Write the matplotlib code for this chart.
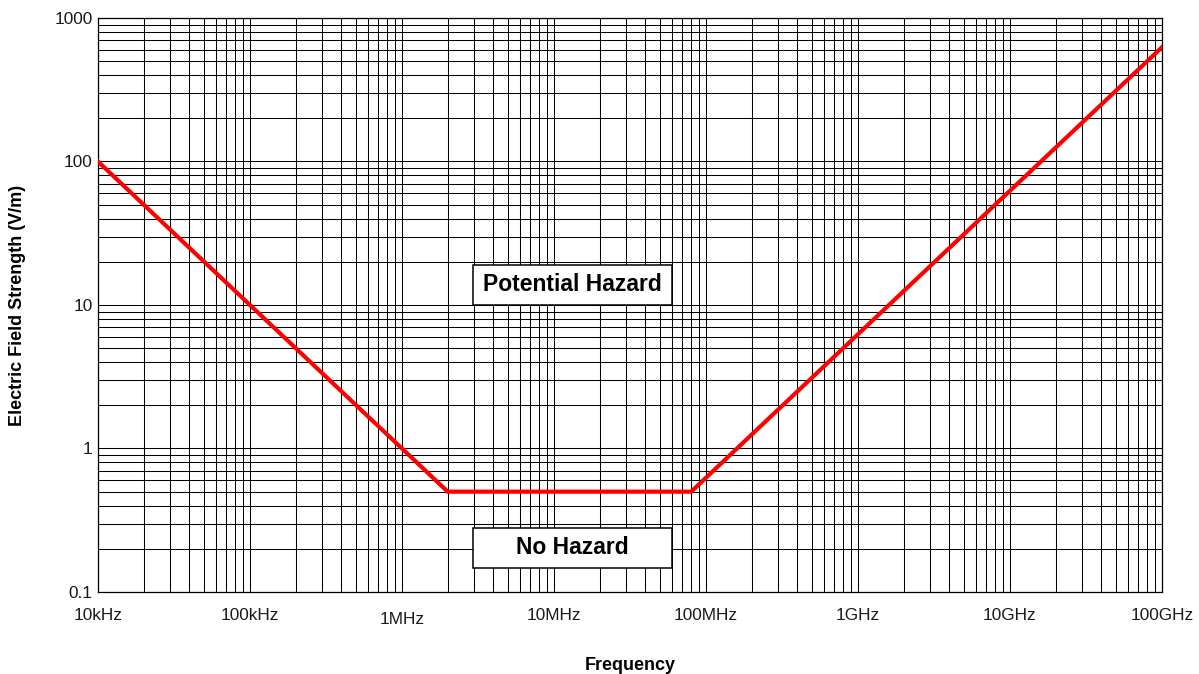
import matplotlib
matplotlib.use("Agg")
import matplotlib.pyplot as plt
from matplotlib.ticker import LogLocator, FixedLocator, NullFormatter
from matplotlib.patches import Rectangle
from matplotlib.transforms import ScaledTranslation

plt.rcParams['font.family'] = ['Liberation Sans', 'DejaVu Sans']

# Exposure limit curve (frequency in Hz, field strength in V/m)
freq_hz = [1e4, 2e6, 8e7, 1e11]
field_vm = [100, 0.5, 0.5, 625]

x_ticks = [1e4, 1e5, 1e6, 1e7, 1e8, 1e9, 1e10, 1e11]
x_labels = ["10kHz", "100kHz", "1MHz", "10MHz", "100MHz", "1GHz", "10GHz", "100GHz"]
y_ticks = [0.1, 1, 10, 100, 1000]
y_labels = ["0.1", "1", "10", "100", "1000"]

fig = plt.figure(figsize=(11.99, 6.74), dpi=100)
ax = fig.add_axes([0.0817, 0.1217, 0.8874, 0.8516])

ax.set_xscale("log")
ax.set_yscale("log")
ax.set_xlim(1e4, 1e11)
ax.set_ylim(0.1, 1000)

ax.xaxis.set_major_locator(FixedLocator(x_ticks))
ax.set_xticklabels(x_labels)
ax.yaxis.set_major_locator(FixedLocator(y_ticks))
ax.set_yticklabels(y_labels)
ax.xaxis.set_minor_locator(LogLocator(base=10, subs=range(2, 10), numticks=50))
ax.yaxis.set_minor_locator(LogLocator(base=10, subs=range(2, 10), numticks=50))
ax.xaxis.set_minor_formatter(NullFormatter())
ax.yaxis.set_minor_formatter(NullFormatter())

ax.tick_params(axis="both", which="both", length=0, labelsize=12.4, colors="#1a1a1a")
ax.tick_params(axis="x", which="major", pad=11.5)
ax.tick_params(axis="y", which="major", pad=4)

ax.grid(True, which="both", color="black", linewidth=0.75)
ax.set_axisbelow(True)
for sp in ax.spines.values():
    sp.set_color("black")
    sp.set_linewidth(0.9)

# The 1MHz label sits a little lower than its neighbours
for lbl in ax.get_xticklabels():
    if lbl.get_text() == "1MHz":
        lbl.set_transform(lbl.get_transform() +
                          ScaledTranslation(0, -4 / 100, fig.dpi_scale_trans))

ax.plot(freq_hz, field_vm, color="#ff0000", linewidth=3, solid_joinstyle="miter", zorder=5)

# Region annotation boxes
for (y0, txt) in [(0.5, "Potential Hazard"), (0.0418, "No Hazard")]:
    ax.add_patch(Rectangle((0.3524, y0), 0.1871, 0.0705, transform=ax.transAxes,
                           facecolor="white", edgecolor="black", linewidth=1.1, zorder=4))
    ax.text(0.3524 + 0.1871 / 2, y0 + 0.0705 / 2, txt, transform=ax.transAxes,
            ha="center", va="center", fontsize=16.5, fontweight="bold", zorder=6)

fig.text(0.5255, 1 - 665 / 674, "Frequency", ha="center", va="center",
         fontsize=13, fontweight="bold")
fig.text(18 / 1199, 1 - 305 / 674, "Electric Field Strength (V/m)", ha="center",
         va="center", rotation=90, fontsize=13, fontweight="bold")

fig.savefig("out.png", dpi=100, facecolor="white")
